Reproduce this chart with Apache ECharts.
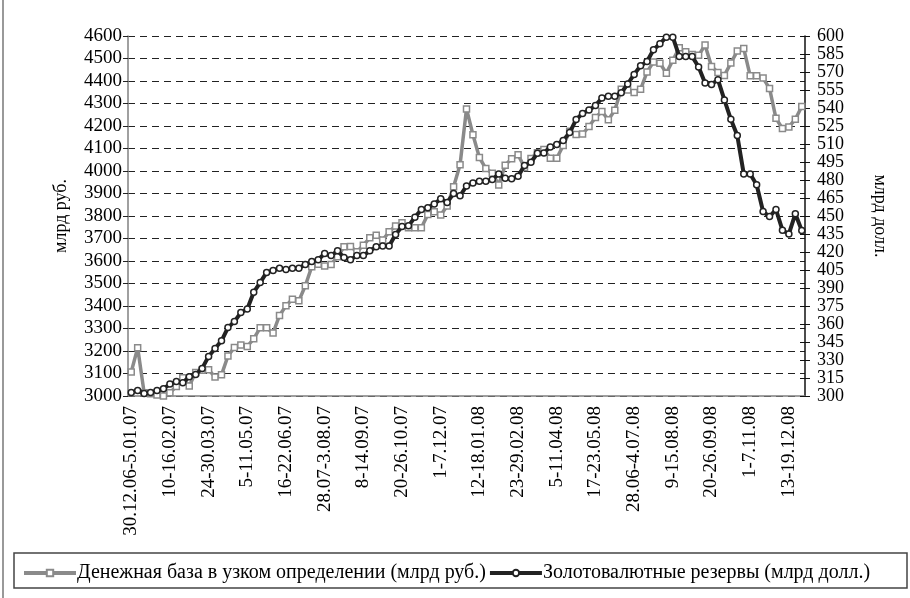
<!DOCTYPE html>
<html>
<head>
<meta charset="utf-8">
<script src="https://cdn.jsdelivr.net/npm/echarts@6/dist/echarts.min.js"></script>
<style>
    html, body { margin: 0; padding: 0; background: #fff; }
    #chart { width: 910px; height: 598px; }
</style>
</head>
<body>
<div id="chart"></div>
<script>
// weekly periods, first week 30.12.06-5.01.07
const firstWeek = Date.UTC(2006, 11, 30)
const weekCount = 105

// money base, narrow definition (bn rub.), left axis
const moneyBase = [
    3107, 3214, 3015, 3010, 3005, 3000, 3015, 3042, 3081, 3044, 3105, 3115, 3117, 3084, 3094, 3178, 3216, 3227, 3220, 3255,
    3303, 3303, 3280, 3358, 3401, 3430, 3423, 3490, 3575, 3586, 3578, 3585, 3619, 3663, 3665, 3641, 3670, 3703, 3715, 3693,
    3730, 3756, 3770, 3748, 3748, 3748, 3807, 3819, 3804, 3845, 3930, 4028, 4276, 4161, 4060, 4011, 3990, 3938, 4026, 4055,
    4072, 4016, 4056, 4081, 4096, 4057, 4057, 4113, 4177, 4162, 4164, 4198, 4238, 4264, 4228, 4270, 4363, 4360, 4349, 4363,
    4440, 4485, 4479, 4435, 4492, 4548, 4530, 4518, 4514, 4560, 4465, 4438, 4425, 4480, 4533, 4544, 4423, 4423, 4413, 4367,
    4234, 4189, 4196, 4230, 4287
]

// international reserves (bn usd), right axis
const reserves = [
    303, 304.5, 302, 303, 304.5, 306, 310, 312, 311, 316, 318, 323, 333, 339.5, 346, 357, 362, 369.5, 372.5, 386.5,
    394.5, 403, 404.5, 406.5, 405.5, 406.5, 406.5, 409.6, 412, 413.6, 418.7, 417, 421, 415.5, 413.6, 417, 417, 421, 424.3, 425,
    425, 434.6, 441.3, 441.8, 449, 455.5, 456.8, 460, 464.3, 461.3, 468.7, 466.8, 475, 477.5, 479, 479, 480.4, 485, 481.5, 481,
    483.2, 492, 494.8, 502.3, 502.6, 507.6, 509.6, 513, 519.5, 530.4, 535.4, 538.3, 542, 548.4, 549.7, 549.7, 552.7, 560, 568, 575.2,
    578.7, 588.6, 593.6, 599, 599, 583, 583, 583, 574.2, 560.8, 559.6, 563.6, 546.7, 530.6, 517, 485.1, 485, 476, 453.7, 449.5,
    455.4, 438.2, 435.1, 451.8, 438
]

const seriesNames = ['Денежная база в узком определении (млрд руб.)', 'Золотовалютные резервы (млрд долл.)']

function pad(n) { return n < 10 ? '0' + n : '' + n }

function weekLabel(t) {
    const a = new Date(t), b = new Date(t + 6 * 864e5)
    const d1 = a.getUTCDate(), m1 = a.getUTCMonth() + 1, y1 = a.getUTCFullYear() % 100
    const d2 = b.getUTCDate(), m2 = b.getUTCMonth() + 1, y2 = b.getUTCFullYear() % 100
    if (y1 !== y2) return d1 + '.' + pad(m1) + '.' + pad(y1) + '-' + d2 + '.' + pad(m2) + '.' + pad(y2)
    if (m1 !== m2) return d1 + '.' + pad(m1) + '-' + d2 + '.' + pad(m2) + '.' + pad(y2)
    return d1 + '-' + d2 + '.' + pad(m2) + '.' + pad(y2)
}

const weeks = []
for (let i = 0; i < weekCount; i++) weeks.push(weekLabel(firstWeek + i * 7 * 864e5))

const font = "'Liberation Serif', 'Times New Roman', serif"

const myChart = echarts.init(document.getElementById('chart'))

const option = {
    animation: false,
    textStyle: { fontFamily: font, color: '#000' },
    grid: { left: 128, right: 105, top: 36, bottom: 202 },
    graphic: [
        { type: 'line', shape: { x1: 3, y1: 0, x2: 3, y2: 598 }, style: { stroke: '#777', lineWidth: 1.5 } },
        { type: 'rect', shape: { x: 14, y: 553, width: 893, height: 35 }, style: { fill: null, stroke: '#444', lineWidth: 1.5 } }
    ],
    legend: {
        left: 17,
        top: 558,
        itemWidth: 52,
        itemHeight: 8,
        itemGap: 2,
        lineStyle: { width: 4 },
        textStyle: { fontFamily: font, fontSize: 20, color: '#000', padding: [0, 0, 0, -4] },
        data: seriesNames
    },
    xAxis: [
        {
            type: 'category',
            data: weeks,
            boundaryGap: true,
            axisLine: { lineStyle: { color: '#808080', width: 1.5 } },
            axisTick: { interval: 0, length: 5, lineStyle: { color: '#222' } },
            axisLabel: {
                interval: 5,
                rotate: 90,
                margin: 10,
                fontSize: 19,
                fontFamily: font,
                color: '#000'
            }
        },
        {
            type: 'category',
            data: weeks,
            position: 'bottom',
            boundaryGap: true,
            axisLine: { show: false },
            axisTick: { interval: 0, inside: true, length: 5, lineStyle: { color: '#222' } },
            axisLabel: { show: false }
        }
    ],
    yAxis: [
        {
            type: 'value',
            min: 3000,
            max: 4600,
            interval: 100,
            name: 'млрд руб.',
            nameLocation: 'middle',
            nameRotate: 90,
            nameGap: 58,
            nameTextStyle: { fontFamily: font, fontSize: 18, color: '#000' },
            axisLine: { show: true, lineStyle: { color: '#808080', width: 1.5 } },
            axisTick: { show: true, length: 5, lineStyle: { color: '#222' } },
            axisLabel: {
                fontSize: 19,
                margin: 6,
                fontFamily: font,
                color: '#000',
                showMinLabel: true,
                showMaxLabel: true,
                formatter: function (v) { return String(v) }
            },
            splitLine: { lineStyle: { color: '#222', type: [7, 5], width: 1 } }
        },
        {
            type: 'value',
            min: 300,
            max: 600,
            interval: 15,
            position: 'right',
            name: 'млрд долл.',
            nameLocation: 'middle',
            nameRotate: -90,
            nameGap: 66,
            nameTextStyle: { fontFamily: font, fontSize: 18, color: '#000' },
            axisLine: { show: true, lineStyle: { color: '#111', width: 1.5 } },
            axisTick: { show: true, length: 5, lineStyle: { color: '#111' } },
            axisLabel: {
                fontSize: 18,
                margin: 12,
                fontFamily: font,
                color: '#000',
                showMinLabel: true,
                showMaxLabel: true,
                hideOverlap: false
            },
            splitLine: { show: false }
        },
        {
            type: 'value',
            min: 300,
            max: 600,
            interval: 15,
            position: 'right',
            axisLine: { show: false },
            axisTick: { show: true, inside: true, length: 5, lineStyle: { color: '#111' } },
            axisLabel: { show: false },
            splitLine: { show: false }
        }
    ],
    series: [
        {
            name: seriesNames[0],
            type: 'line',
            yAxisIndex: 0,
            data: moneyBase,
            symbol: 'rect',
            symbolSize: 6,
            showAllSymbol: true,
            lineStyle: { color: '#8a8a8a', width: 3.5 },
            itemStyle: { color: '#fff', borderColor: '#8a8a8a', borderWidth: 1.5 },
            z: 2
        },
        {
            name: seriesNames[1],
            type: 'line',
            yAxisIndex: 1,
            data: reserves,
            symbol: 'circle',
            symbolSize: 6,
            showAllSymbol: true,
            lineStyle: { color: '#222', width: 4 },
            itemStyle: { color: '#fff', borderColor: '#222', borderWidth: 1.5 },
            z: 3
        }
    ]
}

myChart.setOption(option)

window.addEventListener('resize', function () {
    myChart.resize()
})
</script>
</body>
</html>
